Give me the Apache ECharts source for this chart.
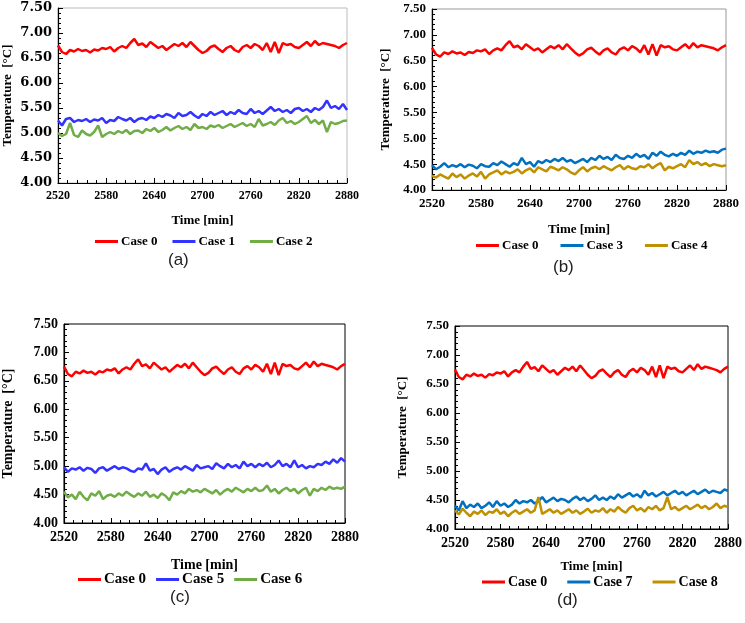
<!DOCTYPE html>
<html><head><meta charset="utf-8">
<script src="https://cdn.jsdelivr.net/npm/echarts@6/dist/echarts.min.js"></script>
<style>html,body{margin:0;padding:0;background:#fff}#c{width:745px;height:623px}</style>
</head><body><div id="c"></div>
<script>
const times = Array.from({length: 73}, (_, i) => 2520 + 5 * i);
const xTicks = [2520, 2580, 2640, 2700, 2760, 2820, 2880];
const yTicks = [4.00, 4.50, 5.00, 5.50, 6.00, 6.50, 7.00, 7.50];

const case0 = [6.75,6.62,6.58,6.66,6.63,6.68,6.64,6.66,6.61,6.67,
  6.65,6.70,6.68,6.72,6.63,6.70,6.74,6.70,6.80,6.88,
  6.76,6.79,6.72,6.82,6.76,6.70,6.74,6.66,6.72,6.78,
  6.74,6.80,6.72,6.82,6.74,6.66,6.60,6.64,6.72,6.75,
  6.68,6.62,6.70,6.74,6.66,6.62,6.72,6.76,6.70,6.78,
  6.74,6.66,6.80,6.62,6.82,6.60,6.80,6.76,6.78,6.72,
  6.70,6.76,6.82,6.74,6.84,6.76,6.80,6.78,6.76,6.74,
  6.70,6.76,6.80];
const case1 = [5.25,5.15,5.28,5.30,5.22,5.26,5.24,5.28,5.22,5.27,
  5.25,5.30,5.20,5.26,5.24,5.32,5.28,5.25,5.30,5.22,
  5.28,5.30,5.26,5.33,5.30,5.36,5.32,5.38,5.35,5.30,
  5.40,5.34,5.36,5.42,5.35,5.30,5.38,5.34,5.42,5.36,
  5.40,5.44,5.36,5.42,5.38,5.46,5.40,5.38,5.48,5.40,
  5.44,5.38,5.45,5.52,5.44,5.48,5.42,5.46,5.40,5.48,
  5.50,5.44,5.48,5.42,5.50,5.46,5.52,5.65,5.50,5.54,
  5.48,5.58,5.46];
const case2 = [5.00,4.94,4.98,5.20,4.96,4.92,5.05,4.98,4.95,5.02,
  5.15,4.92,4.98,5.02,4.98,5.04,5.00,5.06,4.98,5.04,
  5.05,5.00,5.08,5.04,5.10,5.02,5.06,5.12,5.05,5.10,
  5.14,5.08,5.12,5.06,5.18,5.10,5.12,5.08,5.15,5.12,
  5.16,5.10,5.14,5.18,5.12,5.16,5.20,5.14,5.18,5.12,
  5.28,5.15,5.18,5.22,5.16,5.25,5.30,5.20,5.24,5.18,
  5.22,5.28,5.34,5.20,5.26,5.18,5.25,5.02,5.22,5.18,
  5.20,5.24,5.25];
const case3 = [4.48,4.40,4.45,4.52,4.44,4.48,4.45,4.50,4.44,4.49,
  4.47,4.42,4.50,4.46,4.45,4.52,4.48,4.55,4.50,4.45,
  4.52,4.48,4.62,4.50,4.54,4.45,4.56,4.52,4.58,4.54,
  4.60,4.56,4.62,4.55,4.58,4.52,4.56,4.60,4.54,4.62,
  4.58,4.66,4.60,4.64,4.58,4.68,4.62,4.60,4.66,4.62,
  4.70,4.64,4.68,4.60,4.72,4.66,4.74,4.68,4.65,4.70,
  4.66,4.72,4.68,4.76,4.70,4.74,4.72,4.76,4.73,4.75,
  4.72,4.78,4.80];
const case4 = [4.28,4.24,4.30,4.26,4.22,4.32,4.25,4.30,4.22,4.28,
  4.32,4.26,4.35,4.22,4.30,4.34,4.38,4.30,4.36,4.32,
  4.35,4.40,4.32,4.38,4.42,4.34,4.44,4.40,4.36,4.45,
  4.42,4.38,4.44,4.40,4.34,4.30,4.38,4.44,4.36,4.42,
  4.45,4.40,4.46,4.42,4.38,4.44,4.48,4.40,4.46,4.42,
  4.40,4.46,4.44,4.50,4.42,4.48,4.52,4.38,4.45,4.42,
  4.46,4.50,4.44,4.58,4.50,4.54,4.48,4.52,4.46,4.50,
  4.48,4.46,4.48];
const case5 = [4.98,4.90,4.96,4.94,4.98,4.92,4.97,4.95,4.88,4.96,
  4.98,4.92,4.96,5.00,4.95,4.98,4.96,4.92,4.90,4.96,
  4.94,5.05,4.92,4.95,4.86,4.94,4.98,4.90,4.95,4.98,
  4.94,5.00,4.96,4.92,5.02,4.96,4.98,5.00,4.95,5.05,
  5.00,4.96,5.04,4.98,5.02,4.96,5.08,5.00,5.04,4.98,
  5.04,5.00,5.06,4.98,5.02,5.10,5.00,5.04,4.98,5.10,
  4.98,5.02,4.96,5.00,4.98,5.04,5.02,5.08,5.04,5.12,
  5.06,5.14,5.08];
const case6 = [4.55,4.45,4.50,4.42,4.55,4.46,4.40,4.52,4.48,4.56,
  4.42,4.48,4.50,4.46,4.52,4.48,4.55,4.50,4.46,4.52,
  4.48,4.55,4.46,4.50,4.44,4.52,4.48,4.40,4.54,4.50,
  4.56,4.52,4.60,4.55,4.58,4.54,4.60,4.56,4.52,4.58,
  4.50,4.56,4.60,4.55,4.62,4.58,4.54,4.60,4.56,4.62,
  4.56,4.58,4.66,4.55,4.60,4.52,4.58,4.62,4.56,4.60,
  4.52,4.58,4.62,4.48,4.60,4.56,4.62,4.58,4.64,4.60,
  4.62,4.60,4.64];
const case7 = [4.40,4.32,4.48,4.36,4.42,4.38,4.44,4.36,4.40,4.46,
  4.38,4.48,4.40,4.44,4.38,4.42,4.50,4.44,4.48,4.46,
  4.50,4.44,4.48,4.55,4.46,4.50,4.54,4.48,4.52,4.50,
  4.46,4.52,4.56,4.50,4.54,4.48,4.52,4.58,4.50,4.54,
  4.50,4.56,4.52,4.60,4.54,4.58,4.62,4.56,4.60,4.54,
  4.66,4.58,4.62,4.56,4.60,4.64,4.58,4.62,4.66,4.60,
  4.64,4.58,4.62,4.66,4.60,4.64,4.68,4.62,4.66,4.64,
  4.62,4.68,4.66];
const case8 = [4.32,4.25,4.35,4.28,4.22,4.30,4.26,4.32,4.24,4.30,
  4.28,4.34,4.26,4.30,4.22,4.28,4.32,4.26,4.30,4.34,
  4.28,4.32,4.55,4.26,4.30,4.34,4.28,4.32,4.26,4.30,
  4.34,4.28,4.32,4.26,4.30,4.35,4.28,4.32,4.30,4.36,
  4.28,4.34,4.30,4.38,4.32,4.28,4.36,4.40,4.32,4.36,
  4.30,4.38,4.34,4.40,4.32,4.36,4.55,4.34,4.38,4.32,
  4.36,4.40,4.34,4.38,4.42,4.36,4.40,4.34,4.38,4.44,
  4.36,4.40,4.38];

const panels = [
  {label: '(a)', series: [['Case 0', case0, '#ff0000'], ['Case 1', case1, '#3333ff'], ['Case 2', case2, '#70ad47']]},
  {label: '(b)', series: [['Case 0', case0, '#ff0000'], ['Case 3', case3, '#0070c0'], ['Case 4', case4, '#bf9000']]},
  {label: '(c)', series: [['Case 0', case0, '#ff0000'], ['Case 5', case5, '#3333ff'], ['Case 6', case6, '#70ad47']]},
  {label: '(d)', series: [['Case 0', case0, '#ff0000'], ['Case 7', case7, '#0070c0'], ['Case 8', case8, '#bf9000']]}
];

const layout = [
  {left: 54, top: 8, width: 293, height: 175, border: '#bbbbbb', yGap: 44, xGap: 31, yFont: 'DejaVu Serif', yFs: 13, xFs: 12, nameFs: 13,
   legLeft: 90, legTop: 230, legFs: 13, legGap: 15, labX: 180, labY: 263},
  {left: 432, top: 9, width: 294, height: 181, border: '#999999', yGap: 40, xGap: 33, yFont: 'Liberation Serif', yFs: 13, xFs: 13, nameFs: 13,
   legLeft: 471, legTop: 234, legFs: 13, legGap: 22, labX: 565, labY: 270},
  {left: 61, top: 324, width: 284, height: 199, border: '#000000', yGap: 49, xGap: 35, yFont: 'Liberation Serif', yFs: 14, xFs: 14, nameFs: 14,
   legLeft: 73, legTop: 567, legFs: 15, legGap: 10, labX: 182, labY: 600},
  {left: 455, top: 326, width: 273, height: 203, border: '#000000', yGap: 46, xGap: 31, yFont: 'Liberation Serif', yFs: 13, xFs: 14, nameFs: 13,
   legLeft: 477, legTop: 570, legFs: 14, legGap: 20, labX: 569, labY: 603}
];

const grid = [], xAxis = [], yAxis = [], series = [], legend = [], graphic = [];
panels.forEach((p, i) => {
  const L = layout[i];
  grid.push({left: L.left, top: L.top, width: L.width, height: L.height, show: true, borderColor: L.border, borderWidth: 1, backgroundColor: 'transparent'});
  xAxis.push({
    type: 'value', gridIndex: i, min: xTicks[0], max: xTicks[xTicks.length - 1], interval: 60,
    name: 'Time [min]', nameLocation: 'middle', nameGap: L.xGap,
    nameTextStyle: {fontFamily: 'Liberation Serif', fontWeight: 'bold', fontSize: L.nameFs, color: '#000'},
    axisLine: {show: true, lineStyle: {color: '#000', width: 1.2}},
    axisTick: {show: true, inside: true, length: 5, lineStyle: {color: '#000'}},
    minorTick: {show: true, splitNumber: 5, length: 3, lineStyle: {color: '#000'}},
    splitLine: {show: false},
    axisLabel: {fontFamily: 'Liberation Serif', fontWeight: 'bold', fontSize: L.xFs, color: '#000', margin: 7,
      formatter: v => String(v)}
  });
  yAxis.push({
    type: 'value', gridIndex: i, min: yTicks[0], max: yTicks[yTicks.length - 1], interval: 0.5,
    name: 'Temperature  [°C]', nameLocation: 'middle', nameGap: L.yGap, nameRotate: 90,
    nameTextStyle: {fontFamily: 'Liberation Serif', fontWeight: 'bold', fontSize: L.nameFs, color: '#000'},
    axisLine: {show: true, lineStyle: {color: '#000', width: 1.2}},
    axisTick: {show: true, inside: true, length: 5, lineStyle: {color: '#000'}},
    minorTick: {show: true, splitNumber: 5, length: 3, lineStyle: {color: '#000'}},
    splitLine: {show: false},
    axisLabel: {fontFamily: L.yFont, fontWeight: 'bold', fontSize: L.yFs, color: '#000', margin: 6,
      formatter: v => v.toFixed(2)}
  });
  const names = [];
  p.series.forEach(([name, vals, color]) => {
    names.push(name);
    series.push({
      type: 'line', name, xAxisIndex: i, yAxisIndex: i, symbol: 'none', animation: false,
      lineStyle: {color, width: 2.5}, itemStyle: {color},
      data: vals.map((v, k) => [times[k], v])
    });
  });
  legend.push({
    data: names, left: L.legLeft, top: L.legTop, itemWidth: 23, itemHeight: 3, icon: 'rect', itemGap: L.legGap,
    textStyle: {fontFamily: 'Liberation Serif', fontWeight: 'bold', fontSize: L.legFs, color: '#000', padding: [0, 0, 0, -2]},
    selectedMode: false
  });
  graphic.push({type: 'text', left: L.labX - 12, top: L.labY - 11,
    style: {text: p.label, font: '17px "Liberation Sans", Arial, sans-serif', fill: '#222'}});
});

const chart = echarts.init(document.getElementById('c'), null, {renderer: 'canvas'});
chart.setOption({animation: false, grid, xAxis, yAxis, series, legend, graphic});
</script></body></html>
